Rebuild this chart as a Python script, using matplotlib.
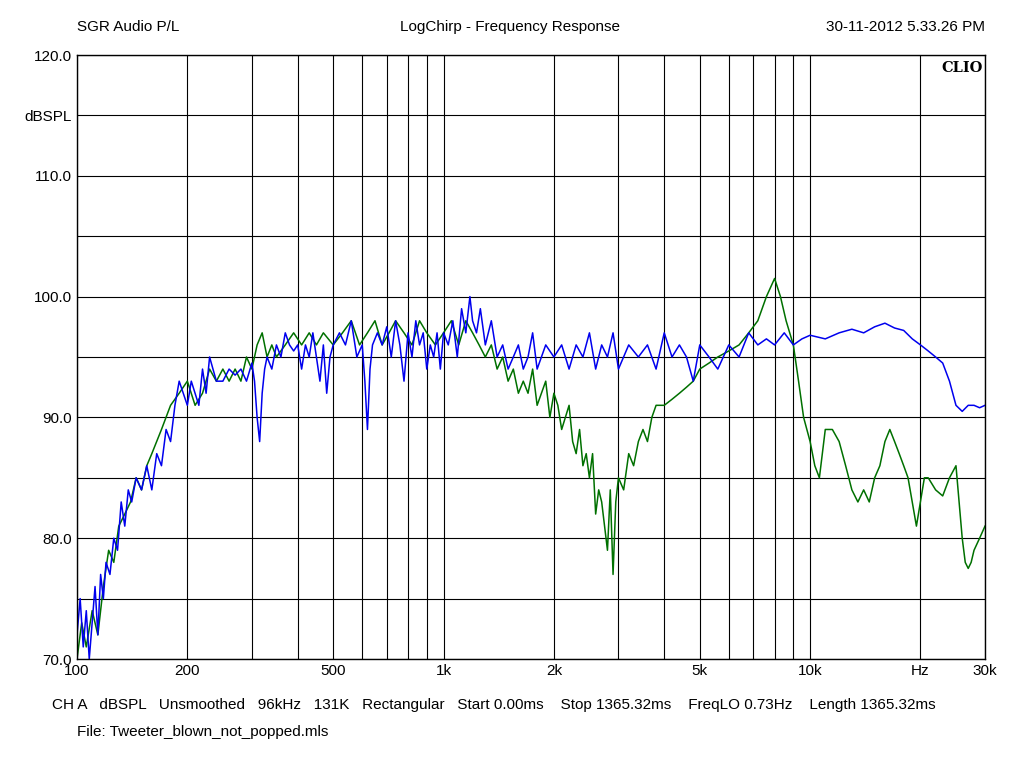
import matplotlib
matplotlib.use("Agg")
import matplotlib.pyplot as plt
from matplotlib.ticker import FixedLocator, NullFormatter
plt.rcParams['font.family'] = ['Liberation Sans', 'DejaVu Sans']

blue_f = [100,102,104,106,108,110,112,114,116,118,120,123,126,129,132,135,138,141,145,150,155,160,165,170,175,180,185,190,195,200,205,210,215,220,225,230,235,240,250,260,270,280,290,300,305,310,315,320,325,330,340,350,360,370,380,390,400,410,420,430,440,450,460,470,480,490,500,520,540,560,580,600,610,620,630,640,660,680,700,720,740,760,780,800,820,840,860,880,900,920,940,960,980,1000,1030,1060,1090,1120,1150,1180,1200,1230,1260,1300,1350,1400,1450,1500,1550,1600,1650,1700,1750,1800,1900,2000,2100,2200,2300,2400,2500,2600,2700,2800,2900,3000,3200,3400,3600,3800,4000,4200,4400,4600,4800,5000,5300,5600,6000,6400,6800,7200,7600,8000,8500,9000,9500,10000,11000,12000,13000,14000,15000,16000,17000,18000,19000,20000,21000,22000,23000,24000,25000,26000,27000,28000,29000,30000]
blue_v = [72,75,71,74,70,73,76,72,77,75,78,77,80,79,83,81,84,83,85,84,86,84,87,86,89,88,91,93,92,91,93,92,91,94,92,95,94,93,93,94,93.5,94,93,94.5,93,90,88,92,94,95,94,96,95,97,96,95.5,96,94,96,95,97,95,93,96,92,95,96,97,96,98,95,96,93,89,94,96,97,96,97.5,95,98,96,93,97,95,98,96,97,94,96,95,97,94,97,96,98,95,99,97,100,98,97,99,96,98,95,96,94,95,96,94,95,97,94,96,95,96,94,96,95,97,94,96,95,97,94,96,95,96,94,97,95,96,95,93,96,95,94,96,95,97,96,96.5,96,97,96,96.5,96.8,96.5,97,97.3,97,97.5,97.8,97.4,97.2,96.5,96,95.5,95,94.5,93,91,90.5,91,91,90.8,91]
green_f = [100,103,106,110,114,118,122,126,130,135,140,145,150,155,160,170,180,190,200,210,220,230,240,250,260,270,280,290,300,310,320,330,340,350,370,390,410,430,450,470,500,530,560,590,620,650,680,710,740,780,820,860,900,950,1000,1050,1100,1150,1200,1250,1300,1350,1400,1450,1500,1550,1600,1650,1700,1750,1800,1850,1900,1950,2000,2050,2100,2150,2200,2250,2300,2350,2400,2450,2500,2550,2600,2650,2700,2750,2800,2850,2900,2950,3000,3100,3200,3300,3400,3500,3600,3700,3800,4000,4200,4400,4600,4800,5000,5300,5600,6000,6400,6800,7200,7600,8000,8300,8600,9000,9300,9600,10000,10300,10600,11000,11500,12000,12500,13000,13500,14000,14500,15000,15500,16000,16500,17000,17500,18000,18500,19000,19500,20000,20500,21000,22000,23000,24000,25000,25500,26000,26500,27000,27500,28000,29000,30000]
green_v = [70,73,71,74,72,76,79,78,81,82,83,85,84,86,87,89,91,92,93,91,92,94,93,94,93,94,93,95,94,96,97,95,96,95,96,97,96,97,96,97,96,97,98,96,97,98,96,97,98,97,96,98,97,96,97,98,96,98,97,96,95,96,94,95,93,94,92,93,92,94,91,92,93,90,92,91,89,90,91,88,87,89,86,87,85,87,82,84,83,81,79,84,77,83,85,84,87,86,88,89,88,90,91,91,91.5,92,92.5,93,94,94.5,95,95.5,96,97,98,100,101.5,100,98,96,93,90,88,86,85,89,89,88,86,84,83,84,83,85,86,88,89,88,87,86,85,83,81,83,85,85,84,83.5,85,86,83,80,78,77.5,78,79,80,81]

fig = plt.figure(figsize=(10.24, 7.68), dpi=100)
ax = fig.add_axes([77/1024, 109/768, 908/1024, 604/768])
ax.set_xscale('log')
ax.set_xlim(100, 30000)
ax.set_ylim(70, 120)
ax.plot(green_f, green_v, color='#007000', lw=1.1)
ax.plot(blue_f, blue_v, color='#0000ee', lw=1.1)

ax.xaxis.set_major_locator(FixedLocator([100,200,500,1000,2000,5000,10000,20000,30000]))
ax.xaxis.set_minor_locator(FixedLocator([300,400,600,700,800,900,3000,4000,6000,7000,8000,9000]))
ax.set_xticklabels(['100','200','500','1k','2k','5k','10k','Hz','30k'])
ax.xaxis.set_minor_formatter(NullFormatter())
ax.set_yticks([70,75,80,85,90,95,100,105,110,115,120])
ax.set_yticklabels(['70.0','','80.0','','90.0','','100.0','','110.0','dBSPL','120.0'])
ax.grid(True, which='both', color='black', lw=0.8)
ax.tick_params(which='both', length=0, labelsize=11)
for s in ax.spines.values():
    s.set_linewidth(1)
ax.text(0.997, 0.99, 'CLIO', transform=ax.transAxes, ha='right', va='top',
        family='DejaVu Serif', fontweight='bold', fontsize=10.5,
        bbox=dict(facecolor='white', edgecolor='none', pad=1))
fig.text(77/1024, 1-27/768, 'SGR Audio P/L', fontsize=11, va='center')
fig.text(510/1024, 1-27/768, 'LogChirp - Frequency Response', fontsize=11, va='center', ha='center')
fig.text(985/1024, 1-27/768, '30-11-2012 5.33.26 PM', fontsize=11, va='center', ha='right')
fig.text(52/1024, 1-705/768, 'CH A   dBSPL   Unsmoothed   96kHz   131K   Rectangular   Start 0.00ms    Stop 1365.32ms    FreqLO 0.73Hz    Length 1365.32ms', fontsize=11, va='center')
fig.text(77/1024, 1-732/768, 'File: Tweeter_blown_not_popped.mls', fontsize=11, va='center')
fig.savefig('out.png', dpi=100)
